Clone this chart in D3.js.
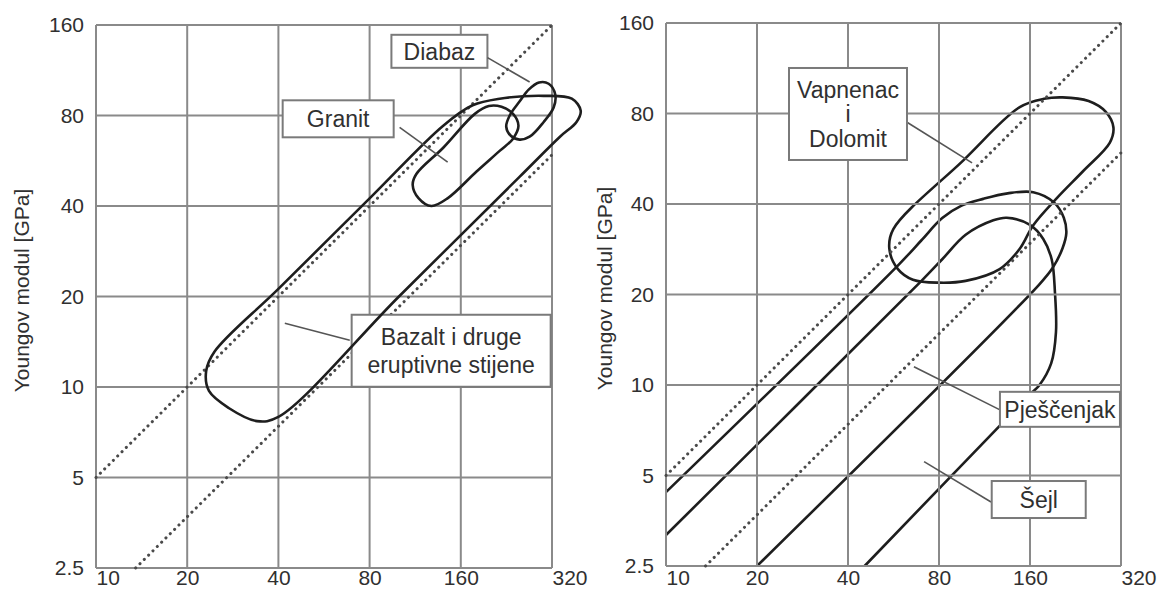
<!DOCTYPE html>
<html>
<head>
<meta charset="utf-8">
<script src="https://cdn.jsdelivr.net/npm/d3@7"></script>
<style>
  body { margin: 0; background: #fff; }
  svg { display: block; font-family: "Liberation Sans", Arial, sans-serif; }
</style>
</head>
<body>
<svg id="chart" width="1157" height="592"></svg>
<script>
// axes: uniaxial strength (MPa) on x, Young's modulus (GPa) on y, both log2
const xTicks = [10, 20, 40, 80, 160, 320];
const yTicks = [2.5, 5, 10, 20, 40, 80, 160];
const yTitle = 'Youngov modul [GPa]';
// dotted modulus-ratio lines, E = r * sigma
const ratioLines = [0.5, 0.185];

// left panel outlines, [sigma, E]
const bazalt = [[24.6, 13.1], [23.1, 11.3], [23.6, 9.7], [27.5, 8.5], [34, 7.7], [40, 7.95],
  [100, 20], [250, 50], [340, 68], [385, 76], [398, 83], [372, 91], [300, 93], [215, 91],
  [175, 86.5], [140, 74], [80, 42.4], [40, 21.2]];
const granit = [[111, 47], [116, 42.5], [128, 40], [145, 42.5], [180, 52], [215, 61], [238, 67],
  [248, 74], [238, 81], [218, 85.5], [198, 86], [178, 81], [140, 62.5], [114, 51]];
const diabaz = [[226, 73.5], [232, 80], [250, 89], [268, 97.5], [290, 103], [312, 102], [328, 94],
  [324, 85], [300, 76], [270, 68], [250, 66.5], [234, 68.5]];

// right panel outlines (open ones run off the left / bottom of the plot)
const vapnenac = [[54.8, 28.4], [56.5, 33], [96.5, 56], [148, 84], [178, 89.5], [205, 90.5],
  [250, 88], [285, 81], [302, 72], [294, 64], [240, 51.5], [197, 42], [164, 34], [148, 28.4],
  [127, 24.3], [98, 22.2], [80, 21.9], [65.6, 22.4], [58.5, 24.3]];
const pjescenjak = [[10, 4.4], [59, 25.2], [70, 30.3], [82, 35.9], [95, 39.5], [112, 41.6],
  [135, 43.4], [164, 43.8], [192, 40.5], [207, 36], [211, 32], [205, 28.5], [190, 24.5],
  [171, 21.5], [20, 2.5]];
const sejl = [[10, 3.17], [70, 22.2], [82, 26.2], [98, 31.6], [121, 35.3], [134, 36], [160, 34.1],
  [177, 30.6], [188.7, 26.2], [193.5, 20.3], [195, 15], [188, 11.8], [172, 10], [160, 9.3],
  [45.4, 2.5]];

// label texts
const diabazLabel = ['Diabaz'];
const granitLabel = ['Granit'];
const bazaltLabel = ['Bazalt i druge', 'eruptivne stijene'];
const vapnenacLabel = ['Vapnenac', 'i', 'Dolomit'];
const pjescenjakLabel = ['Pješčenjak'];
const sejlLabel = ['Šejl'];

const panels = [
  {
    x0: 96, x1: 552, y0: 568, y1: 25, titleX: 21, boxesOnTop: false,
    shapes: [{ pts: bazalt, closed: true }, { pts: granit, closed: true }, { pts: diabaz, closed: true }],
    notes: [
      { text: diabazLabel, at: [136, 130.8], w: 96, h: 33, lh: 26, lead: [[196, 124.6], [270, 103.4]] },
      { text: granitLabel, at: [63, 78], w: 111, h: 37, lh: 26, lead: [[100.5, 73.1], [144.8, 56]] },
      { text: bazaltLabel, at: [148.7, 13.2], w: 199, h: 72, lh: 28, lead: [[42, 16.3], [68.8, 14.3]] },
    ],
  },
  {
    x0: 666, x1: 1121, y0: 566, y1: 23, titleX: 604, boxesOnTop: true,
    shapes: [{ pts: vapnenac, closed: true }, { pts: pjescenjak, closed: false }, { pts: sejl, closed: false }],
    notes: [
      { text: vapnenacLabel, at: [40, 79.7], w: 118, h: 92, lh: 24.5, lead: [[62.7, 74.8], [102.9, 54.8]] },
      { text: pjescenjakLabel, at: [201, 8.3], w: 120, h: 35, lh: 26, lead: [[66.1, 11.5], [127.8, 8.25]] },
      { text: sejlLabel, at: [171, 4.16], w: 94, h: 37, lh: 26, lead: [[71.4, 5.56], [118.9, 4.08]] },
    ],
  },
];

const svg = d3.select('#chart');
const gridColor = '#8a8a8a';
const inkColor = '#1e1e1e';
const textColor = '#303030';

function drawPanel(p) {
  const g = svg.append('g');
  const x = d3.scaleLog().base(2).domain([10, 320]).range([p.x0, p.x1]);
  const y = d3.scaleLog().base(2).domain([2.5, 160]).range([p.y0, p.y1]);

  // grid
  g.append('g').selectAll('line').data(xTicks).join('line')
    .attr('x1', d => x(d)).attr('x2', d => x(d))
    .attr('y1', p.y0).attr('y2', p.y1)
    .attr('stroke', gridColor).attr('stroke-width', 2);
  g.append('g').selectAll('line').data(yTicks).join('line')
    .attr('x1', p.x0).attr('x2', p.x1)
    .attr('y1', d => y(d)).attr('y2', d => y(d))
    .attr('stroke', gridColor).attr('stroke-width', 2);

  // dotted ratio lines
  g.append('g').selectAll('line').data(ratioLines).join('line')
    .attr('x1', r => x(Math.max(10, 2.5 / r))).attr('y1', r => y(Math.max(10, 2.5 / r) * r))
    .attr('x2', r => x(Math.min(320, 160 / r))).attr('y2', r => y(Math.min(320, 160 / r) * r))
    .attr('stroke', '#4a4a4a').attr('stroke-width', 3)
    .attr('stroke-linecap', 'round').attr('stroke-dasharray', '0.1 6');

  const boxLayer = g.append('g');
  const shapeLayer = g.append('g');
  if (p.boxesOnTop) shapeLayer.lower();

  // outlines
  shapeLayer.selectAll('path').data(p.shapes).join('path')
    .attr('d', s => d3.line()
      .x(d => x(d[0])).y(d => y(d[1]))
      .curve(s.closed ? d3.curveCatmullRomClosed.alpha(0.5) : d3.curveCatmullRom.alpha(0.5))(s.pts))
    .attr('fill', 'none').attr('stroke', inkColor).attr('stroke-width', 2.6)
    .attr('stroke-linejoin', 'round');

  // leader lines
  g.append('g').selectAll('line').data(p.notes).join('line')
    .attr('x1', n => x(n.lead[0][0])).attr('y1', n => y(n.lead[0][1]))
    .attr('x2', n => x(n.lead[1][0])).attr('y2', n => y(n.lead[1][1]))
    .attr('stroke', '#555').attr('stroke-width', 1.6);

  // label boxes
  const note = boxLayer.selectAll('g').data(p.notes).join('g')
    .attr('transform', n => `translate(${x(n.at[0])},${y(n.at[1])})`);
  note.append('rect')
    .attr('x', n => -n.w / 2).attr('y', n => -n.h / 2)
    .attr('width', n => n.w).attr('height', n => n.h)
    .attr('fill', '#fff').attr('stroke', '#7a7a7a').attr('stroke-width', 2);
  note.selectAll('text').data(n => n.text.map((t, i) => ({ t, i, n }))).join('text')
    .attr('text-anchor', 'middle')
    .attr('y', d => (d.i - (d.n.text.length - 1) / 2) * d.n.lh)
    .attr('dy', '0.36em')
    .attr('font-size', 23).attr('fill', textColor)
    .text(d => d.t);
  if (p.boxesOnTop) boxLayer.raise();

  // tick labels
  g.append('g')
    .attr('transform', `translate(${p.x0},0)`)
    .call(d3.axisLeft(y).tickValues(yTicks).tickSize(0).tickPadding(12).tickFormat(d => String(d)))
    .call(a => a.select('.domain').remove())
    .call(a => a.selectAll('text').attr('font-size', 21).attr('fill', textColor)
      .attr('font-family', null));
  g.append('g')
    .attr('transform', `translate(0,${p.y0})`)
    .call(d3.axisBottom(x).tickValues(xTicks).tickSize(0).tickPadding(585 - 15 - p.y0)
      .tickFormat(d => String(d)))
    .call(a => a.select('.domain').remove())
    .call(a => a.selectAll('text').attr('font-size', 21).attr('fill', textColor)
      .attr('font-family', null)
      .attr('text-anchor', (d, i) => (i === 0 || i === xTicks.length - 1) ? 'start' : 'middle'));

  // axis title
  g.append('text')
    .attr('transform', `translate(${p.titleX},${(p.y0 + p.y1) / 2 - 6}) rotate(-90)`)
    .attr('text-anchor', 'middle').attr('dy', '0.36em')
    .attr('font-size', 21).attr('fill', textColor)
    .text(yTitle);
}

panels.forEach(drawPanel);
</script>
</body>
</html>
